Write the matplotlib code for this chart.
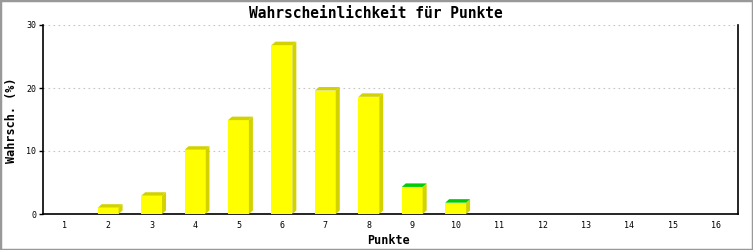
import numpy as np
import matplotlib
matplotlib.use('Agg')
import matplotlib.pyplot as plt
from matplotlib.patches import Polygon, Rectangle

# Daten
punkte = list(range(1, 17))
wahrsch = [0, 1.0, 2.9, 10.2, 14.9, 26.8, 19.6, 18.6, 4.3, 1.8, 0, 0, 0, 0, 0, 0]
top_farbe = ['#d2d200'] * 8 + ['#00cc00', '#00cc00'] + ['#d2d200'] * 6
yticks = [0, 10, 20, 30]

plt.rcParams['font.family'] = ['DejaVu Sans Mono']

fig = plt.figure(figsize=(7.53, 2.5), dpi=100)
ax = fig.add_axes([43 / 753, 1 - 214 / 250, 695 / 753, 189 / 250])

breite = 0.48
dx = 4 / 43.4      # Tiefe in Datenkoordinaten
dy = 3.5 / 6.3

for x, w, tc in zip(punkte, wahrsch, top_farbe):
    if w <= 0:
        continue
    l = x - breite / 2
    r = x + breite / 2
    ax.bar(x, w, width=breite, color='#ffff00', edgecolor='none', zorder=3)
    # Seitenflaeche
    ax.add_patch(Polygon([(r, 0), (r + dx, dy), (r + dx, w + dy), (r, w)],
                         closed=True, facecolor='#d2d200', edgecolor='none', zorder=3))
    # Deckflaeche
    ax.add_patch(Polygon([(l, w), (l + dx, w + dy), (r + dx, w + dy), (r, w)],
                         closed=True, facecolor=tc, edgecolor='none', zorder=3))

ax.set_xlim(0.5, 16.5)
ax.set_ylim(0, 30)
ax.set_xticks(punkte)
ax.set_xticklabels([str(p) for p in punkte], fontsize=6)
ax.set_yticks(yticks)
ax.set_yticklabels([str(t) for t in yticks], fontsize=6)
ax.tick_params(axis='x', length=0, pad=5)
ax.tick_params(axis='y', length=3, width=1, pad=2)
ax.grid(axis='y', color='#c4c4c4', linestyle=(0, (1.5, 3)), linewidth=0.8, zorder=0)
ax.set_axisbelow(True)
for s in ['left', 'bottom', 'right']:
    ax.spines[s].set_color('black')
    ax.spines[s].set_linewidth(1.2)
ax.spines['top'].set_visible(False)

fig.text(376 / 753, 1 - 13 / 250, 'Wahrscheinlichkeit für Punkte', ha='center', va='center',
         fontsize=10.5, fontweight='bold')
fig.text(388 / 753, 1 - 240 / 250, 'Punkte', ha='center', va='center', fontsize=8.5, fontweight='bold')
fig.text(12 / 753, 1 - 120 / 250, 'Wahrsch. (%)', ha='center', va='center', rotation=90,
         fontsize=8.5, fontweight='bold')

fig.patches.append(Rectangle((0, 0), 1, 1, transform=fig.transFigure, fill=False,
                             edgecolor='#999999', linewidth=2.5))

fig.savefig('out.png', dpi=100)
